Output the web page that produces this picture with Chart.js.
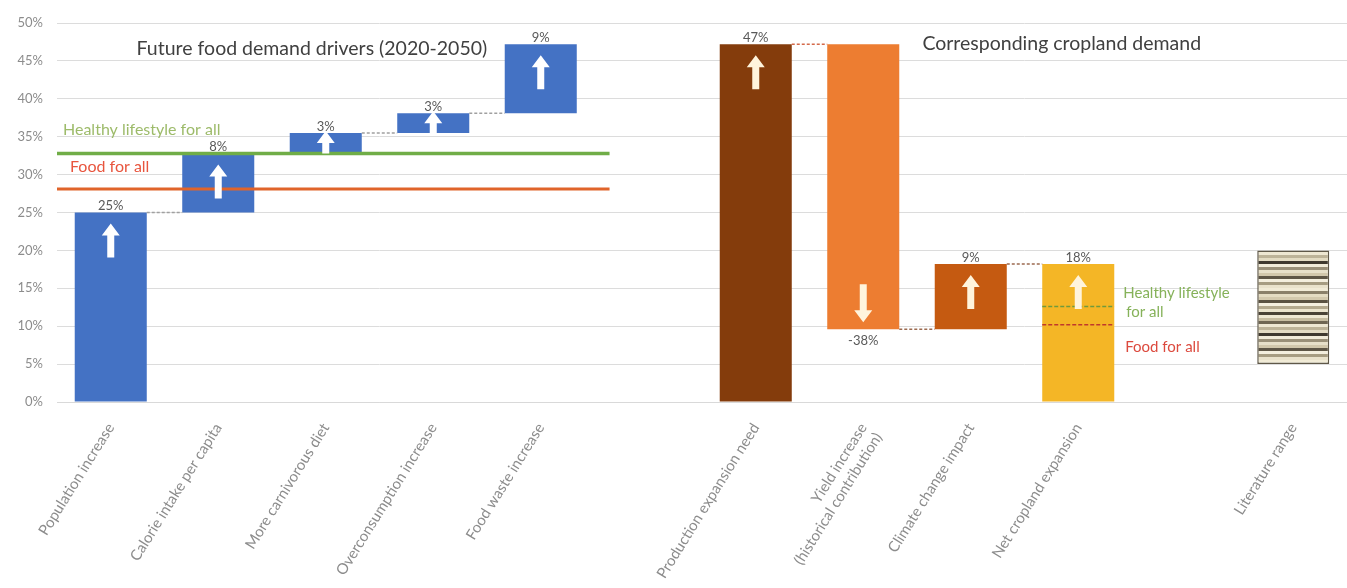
<!DOCTYPE html>
<html>
<head>
<meta charset="utf-8">
<script src="https://cdn.jsdelivr.net/npm/chart.js@4/dist/chart.umd.min.js"></script>
<style>
  html, body { margin: 0; padding: 0; background: #ffffff; }
  #wrap { width: 1347px; height: 588px; }
</style>
</head>
<body>
<div id="wrap"><canvas id="c" width="1347" height="588"></canvas></div>
<script>
// Categories (empty strings are spacer slots between the two groups)
const categories = [
  "Population increase",
  "Calorie intake per capita",
  "More carnivorous diet",
  "Overconsumption increase",
  "Food waste increase",
  "",
  "Production expansion need",
  ["Yield increase", "(historical contribution)"],
  "Climate change impact",
  "Net cropland expansion",
  "",
  "Literature range"
];

// Waterfall bars: start and end level of each bar (% change vs 2020)
const barStart = [0, 25, 32.8, 35.5, 38.1, null, 0, 47.2, 9.6, 0, null, 5];
const barEnd   = [25, 32.8, 35.5, 38.1, 47.2, null, 47.2, 9.6, 18.2, 18.2, null, 20];

// Which bars show a value label and a direction arrow
const showValue = [true, true, true, true, true, false, true, true, true, true, false, false];

// Scenario reference levels
const demandHealthy = 32.8;     // Healthy lifestyle for all (food demand)
const demandFoodForAll = 28.1;  // Food for all (food demand)
const croplandHealthy = 12.6;   // Healthy lifestyle for all (cropland)
const croplandFoodForAll = 10.2; // Food for all (cropland)

// Y axis ticks
const yTicks = [0, 5, 10, 15, 20, 25, 30, 35, 40, 45, 50];

const FONT = "Lato, 'Liberation Sans', sans-serif";

const barColors = [
  "#4472c4", "#4472c4", "#4472c4", "#4472c4", "#4472c4", "#ffffff",
  "#843c0c", "#ed7d31", "#c55a11", "#f4b626", "#ffffff", "#c9bfa5"
];
const arrowColors = [
  "#ffffff", "#ffffff", "#ffffff", "#ffffff", "#ffffff", null,
  "#fff4dc", "#fff4dc", "#fff4dc", "#fff4dc", null, null
];

// Striped fill for the literature range bar
function stripePattern() {
  const stripes = ["#f1ebd6", "#8a8069", "#e4dcc2", "#d3c9ad", "#5a5242", "#f4efdf",
                   "#b3a98e", "#ebe4cd", "#4a4336", "#efe8d3", "#c7bda1", "#6f6652",
                   "#eee7d2", "#bdb398", "#e3dbc2", "#3f392e", "#f1ebd8", "#9a9078",
                   "#e7e0c9", "#d2c8ac", "#5e5646", "#f3eedd", "#a69c81", "#e9e2cb"];
  const h = 3;
  const c = document.createElement("canvas");
  c.width = 8; c.height = stripes.length * h;
  const g = c.getContext("2d");
  stripes.forEach((col, i) => { g.fillStyle = col; g.fillRect(0, i * h, 8, h); });
  return g.createPattern(c, "repeat");
}
barColors[11] = stripePattern();

const floating = categories.map((_, i) =>
  barStart[i] === null ? null : [barStart[i], barEnd[i]]);

// Draws connectors, scenario lines, arrows, value labels and group titles
const annotate = {
  id: "annotate",
  afterDatasetsDraw(chart) {
    const ctx = chart.ctx;
    const ys = chart.scales.y;
    const xs = chart.scales.x;
    const bars = chart.getDatasetMeta(0).data;
    const ca = chart.chartArea;

    ctx.save();

    // waterfall connectors
    function connector(i, j, level, color) {
      const a = bars[i], b = bars[j];
      const y = ys.getPixelForValue(level);
      ctx.beginPath();
      ctx.setLineDash([3, 2]);
      ctx.strokeStyle = color;
      ctx.lineWidth = 1.5;
      ctx.moveTo(a.x + a.width / 2, y);
      ctx.lineTo(b.x - b.width / 2, y);
      ctx.stroke();
    }
    for (let i = 0; i < 4; i++) connector(i, i + 1, barEnd[i], "#a0a0a0");
    connector(6, 7, barEnd[6], "#d46a4a");
    connector(7, 8, barEnd[7], "#9c6a50");
    connector(8, 9, barEnd[8], "#9c6a50");
    ctx.setLineDash([]);

    // scenario lines across the food demand group
    const lx0 = ca.left;
    const lx1 = xs.getPixelForValue(4.64);
    ctx.lineWidth = 3.5;
    ctx.strokeStyle = "#70ad47";
    ctx.beginPath();
    ctx.moveTo(lx0, ys.getPixelForValue(demandHealthy));
    ctx.lineTo(lx1, ys.getPixelForValue(demandHealthy));
    ctx.stroke();
    ctx.lineWidth = 3;
    ctx.strokeStyle = "#e0642a";
    ctx.beginPath();
    ctx.moveTo(lx0, ys.getPixelForValue(demandFoodForAll));
    ctx.lineTo(lx1, ys.getPixelForValue(demandFoodForAll));
    ctx.stroke();

    // scenario dashes inside the net cropland bar
    const nb = bars[9];
    ctx.lineWidth = 1.5;
    ctx.setLineDash([4, 2]);
    ctx.strokeStyle = "#6f9a3c";
    ctx.beginPath();
    ctx.moveTo(nb.x - nb.width / 2, ys.getPixelForValue(croplandHealthy));
    ctx.lineTo(nb.x + nb.width / 2, ys.getPixelForValue(croplandHealthy));
    ctx.stroke();
    ctx.strokeStyle = "#c0392b";
    ctx.beginPath();
    ctx.moveTo(nb.x - nb.width / 2, ys.getPixelForValue(croplandFoodForAll));
    ctx.lineTo(nb.x + nb.width / 2, ys.getPixelForValue(croplandFoodForAll));
    ctx.stroke();
    ctx.setLineDash([]);

    // arrows
    function arrow(x, yTip, len, up, color) {
      const dir = up ? 1 : -1;
      const headH = 12, headW = 9, shaft = 3.5;
      ctx.fillStyle = color;
      ctx.beginPath();
      ctx.moveTo(x, yTip);
      ctx.lineTo(x + headW, yTip + dir * headH);
      ctx.lineTo(x + shaft, yTip + dir * headH);
      ctx.lineTo(x + shaft, yTip + dir * len);
      ctx.lineTo(x - shaft, yTip + dir * len);
      ctx.lineTo(x - shaft, yTip + dir * headH);
      ctx.lineTo(x - headW, yTip + dir * headH);
      ctx.closePath();
      ctx.fill();
    }
    bars.forEach((b, i) => {
      if (!showValue[i] || !arrowColors[i]) return;
      const up = barEnd[i] >= barStart[i];
      const top = Math.min(b.y, b.base);
      const bottom = Math.max(b.y, b.base);
      const h = bottom - top;
      if (up) {
        if (h > 45) arrow(b.x, top + 11, 34, true, arrowColors[i]);
        else arrow(b.x, top - 2, h + 2, true, arrowColors[i]);
      } else {
        arrow(b.x, bottom - 7, 38, false, arrowColors[i]);
      }
    });

    // value labels
    ctx.font = "13px " + FONT;
    ctx.fillStyle = "#595959";
    ctx.textAlign = "center";
    bars.forEach((b, i) => {
      if (!showValue[i]) return;
      const change = barEnd[i] - barStart[i];
      const txt = Math.round(change) + "%";
      if (change >= 0) {
        ctx.textBaseline = "bottom";
        ctx.fillText(txt, b.x, Math.min(b.y, b.base));
      } else {
        ctx.textBaseline = "top";
        ctx.fillText(txt, b.x, Math.max(b.y, b.base) + 5);
      }
    });

    // scenario labels
    ctx.textAlign = "left";
    ctx.textBaseline = "middle";
    ctx.font = "16px " + FONT;
    ctx.fillStyle = "#9dbb6a";
    ctx.fillText("Healthy lifestyle for all", ca.left + 6, ys.getPixelForValue(demandHealthy) - 24);
    ctx.fillStyle = "#e8553e";
    ctx.fillText("Food for all", ca.left + 13, ys.getPixelForValue(demandFoodForAll) - 22);

    const tx = nb.x + nb.width / 2 + 9;
    ctx.font = "15px " + FONT;
    ctx.fillStyle = "#86b25a";
    ctx.fillText("Healthy lifestyle", tx, ys.getPixelForValue(14.4));
    ctx.fillText("for all", tx + 3, ys.getPixelForValue(11.9));
    ctx.fillStyle = "#dc4a3e";
    ctx.fillText("Food for all", tx + 2, ys.getPixelForValue(7.3));

    // group titles
    ctx.font = "19.5px " + FONT;
    ctx.fillStyle = "#404040";
    ctx.fillText("Future food demand drivers (2020-2050)", xs.getPixelForValue(0.24), ys.getPixelForValue(46.6));
    ctx.fillText("Corresponding cropland demand", xs.getPixelForValue(7.55), ys.getPixelForValue(47.3));

    ctx.restore();
  }
};

const bgPlugin = {
  id: "bg",
  beforeDraw(chart) {
    const ctx = chart.ctx;
    ctx.save();
    ctx.fillStyle = "#ffffff";
    ctx.fillRect(0, 0, chart.width, chart.height);
    ctx.restore();
  }
};

new Chart(document.getElementById("c"), {
  type: "bar",
  data: {
    labels: categories,
    datasets: [{
      data: floating,
      backgroundColor: barColors,
      borderColor: categories.map((_, i) => i === 11 ? "#5f5848" : "rgba(0,0,0,0)"),
      borderWidth: categories.map((_, i) => i === 11 ? 1.5 : 0),
      categoryPercentage: 1,
      barPercentage: 0.67,
      borderSkipped: false
    }]
  },
  options: {
    responsive: false,
    devicePixelRatio: 1,
    animation: false,
    layout: { padding: { top: 23, right: 0, left: 0, bottom: 0 } },
    plugins: {
      legend: { display: false },
      tooltip: { enabled: false }
    },
    scales: {
      x: {
        grid: { display: false, drawTicks: false },
        border: { display: true, color: "#d9d9d9", width: 1 },
        ticks: {
          color: "#8c8c8c",
          font: { family: FONT, size: 15 },
          minRotation: 58,
          maxRotation: 58,
          autoSkip: false,
          padding: 18
        },
        afterFit(scale) { scale.height = 186; }
      },
      y: {
        min: 0,
        max: 50,
        afterBuildTicks(scale) { scale.ticks = yTicks.map(v => ({ value: v })); },
        grid: { color: "#dcdcdc", drawTicks: false, lineWidth: 1 },
        border: { display: false },
        ticks: {
          color: "#8c8c8c",
          font: { family: FONT, size: 13 },
          padding: 14,
          callback: v => v + "%"
        },
        afterFit(scale) { scale.width = 57; }
      }
    }
  },
  plugins: [bgPlugin, annotate]
});
</script>
</body>
</html>
